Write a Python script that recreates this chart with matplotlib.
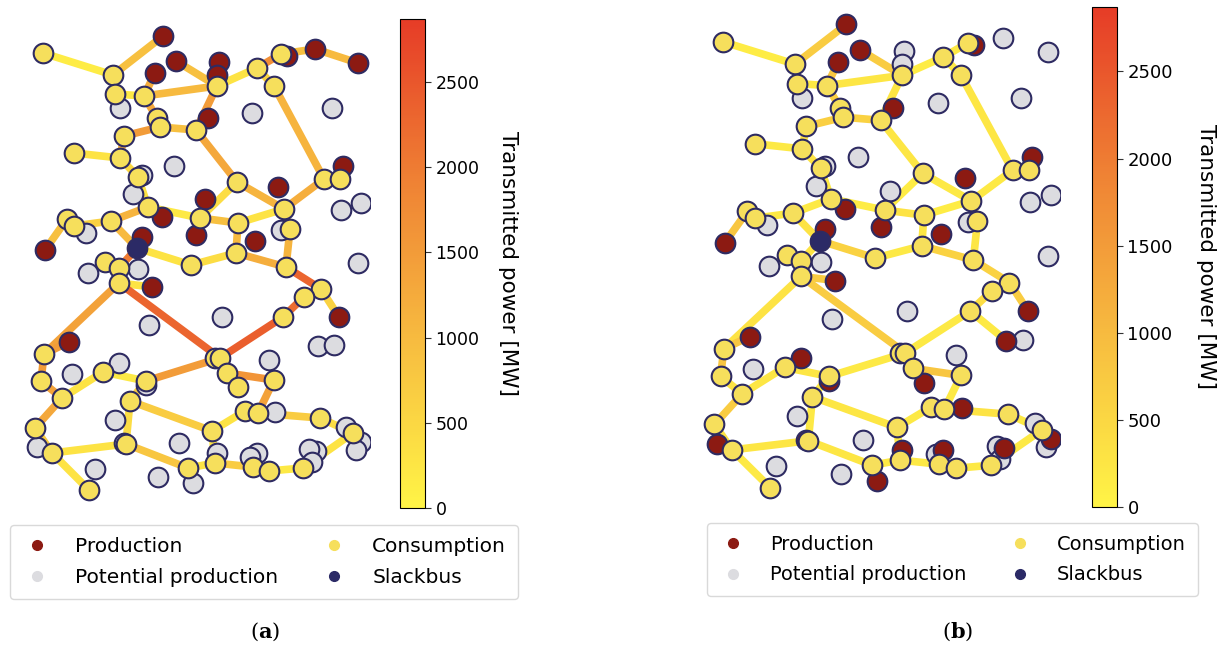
import numpy as np
import matplotlib
matplotlib.use('Agg')
import matplotlib.pyplot as plt
from matplotlib.collections import LineCollection
from matplotlib.colors import LinearSegmentedColormap, Normalize
from matplotlib.cm import ScalarMappable
from matplotlib.lines import Line2D

# node positions (same layout in both panels), type in (a) and in (b)
# C = consumption, P = production, G = potential production, S = slackbus
node_x = [43, 163, 113, 176, 219, 217, 217, 155, 115, 120, 144, 257, 281, 287, 315, 358, 274, 252, 332, 157,
          160, 208, 196, 124, 74, 120, 174, 138, 237, 278, 343, 324, 340, 133, 148, 162, 205, 200, 196, 238,
          284, 341, 361, 281, 290, 255, 67, 74, 86, 111, 45, 142, 137, 138, 105, 119, 88, 119, 152, 191,
          236, 286, 358, 321, 304, 339, 283, 222, 149, 69, 44, 318, 334, 119, 103, 72, 146, 146, 215, 220,
          227, 269, 274, 238, 41, 62, 130, 35, 37, 52, 115, 124, 126, 179, 212, 245, 258, 275, 320, 346,
          353, 361, 356, 217, 215, 257, 250, 253, 269, 316, 309, 312, 303, 188, 193, 158, 95, 89, 142]
node_y = [53, 36, 75, 61, 62, 75, 86, 73, 94, 108, 96, 68, 54, 56, 49, 63, 86, 113, 108, 118,
          127, 118, 130, 136, 153, 158, 166, 177, 182, 187, 166, 179, 179, 194, 207, 217, 199, 218, 235, 223,
          209, 210, 203, 230, 229, 241, 219, 226, 233, 221, 250, 237, 248, 269, 262, 268, 273, 283, 287, 265,
          253, 267, 263, 289, 297, 317, 317, 317, 325, 342, 354, 346, 345, 363, 372, 374, 385, 381, 358, 358,
          373, 360, 380, 387, 381, 398, 401, 428, 447, 453, 420, 443, 444, 443, 431, 411, 413, 412, 418, 427,
          433, 442, 450, 453, 463, 453, 457, 467, 471, 451, 449, 462, 468, 468, 483, 477, 469, 490, 175]
type_a = list("CPCPPPCPCGCCCPPPCGGC"
              "CPCCCCGCCPPCCGCPPCPC"
              "CGGGCPCCGCPPSGCCGCPC"
              "CCGCCPCGGPCGGGCGGCCC"
              "CGCCCCCCGCGGCGCCCGCG"
              "CGGGCGGCCGGGCCGGGCG")
type_b = list("CPCPGGCPCGCCCPGGCGGC"
              "CPCCCCGCCPPCCGCPGCPC"
              "CGGGCPCCGCPPSGCCGCPC"
              "CCGCCPCGGPCPGPCGPCCC"
              "CGCPCCCCPCGPCGCCCPCG"
              "CPGPCPGCCPGGCCPGGCG")

# edges (node index pairs) and transmitted power [MW]; nan = line not in use
edge_from = [0, 2, 2, 8, 10, 10, 3, 6, 11, 12, 14, 11, 16, 6, 10, 23, 20, 22, 23, 24,
             25, 27, 34, 49, 46, 34, 37, 37, 39, 28, 40, 40, 44, 39, 60, 61, 63, 64, 66, 66,
             52, 59, 49, 52, 54, 55, 57, 57, 57, 69, 70, 84, 85, 74, 77, 77, 85, 87, 89, 89,
             86, 86, 94, 95, 96, 80, 79, 96, 98, 100, 112, 108, 107, 104, 113, 94]
edge_to = [2, 1, 8, 10, 7, 6, 6, 11, 12, 14, 15, 16, 31, 22, 19, 20, 22, 28, 25, 25,
           27, 34, 49, 47, 50, 37, 39, 28, 40, 40, 31, 44, 61, 60, 61, 63, 65, 66, 79, 71,
           59, 60, 52, 55, 55, 57, 58, 70, 79, 70, 84, 85, 74, 77, 79, 86, 87, 89, 92, 117,
           92, 94, 95, 96, 82, 82, 80, 98, 100, 112, 108, 107, 104, 113, 92, 104]
nan = np.nan
power_a = [150, 900, 300, 200, 1200, 1000, 900, 300, 1700, 900, 1000, 600, 1100, 1500, 1300, 1500, 900, 1300, 1200, 300,
           500, 300, 1100, 600, 900, 200, 900, 400, 300, 1100, 1200, 900, 1100, 1000, 1200, 2300, 600, 2200, 2400, nan,
           300, 400, 1000, 2000, 300, 800, 300, 1400, 2300, 1500, 1500, 1400, 300, 200, 1500, 700, 1300, 700, 300, 300,
           400, 700, 300, 300, 1400, 1600, 800, 700, 400, 300, 200, 300, 700, 300, 800, 300]
power_b = [150, 700, 300, 200, 800, 250, 700, 150, 200, nan, nan, 200, 250, 250, 650, 650, 600, 250, 300, 200,
           300, 200, 200, 200, 800, 150, 300, 150, 150, 200, 200, 200, 250, 250, 600, 600, 700, 400, 200, 200,
           600, 200, 300, 300, 300, 300, 700, 300, 700, 800, 800, 300, 250, 250, 200, 200, 700, 300, 250, 200,
           200, 250, 200, 200, 200, 800, 300, 300, 200, 200, 200, 200, 200, 200, 250, 200]

ticks = [0, 500, 1000, 1500, 2000, 2500]
vmax = 2870

W, H = 1223, 646
cmap = LinearSegmentedColormap.from_list('pw', ['#fff446', '#f7bd40', '#ef8234', '#e63c27'])
norm = Normalize(0, vmax)
node_col = {'P': '#8c1a12', 'C': '#f6df5c', 'G': '#dcdce0', 'S': '#2b2a66'}
edge_col = '#2e2b62'


def rect(x0, y0, x1, y1):
    return [x0 / W, 1 - y1 / H, (x1 - x0) / W, (y1 - y0) / H]


fig = plt.figure(figsize=(W / 100, H / 100), dpi=100)

# axes box, types, powers, colorbar box, caption x, caption, legend x, legend top, legend font, label pad, tick size
panels = [
    (rect(20, 20, 370, 505), type_a, power_a, rect(400, 19, 425, 508), 265, 'a', 10, 525, 14.5, 28, 12.5),
    (rect(699, 8, 1060, 503), type_b, power_b, rect(1092, 7, 1117, 507), 958, 'b', 707, 523, 14.0, 31, 13),
]
x = np.array(node_x, float)
y = np.array(node_y, float)
for pos, types, power, cpos, capx, lab, legx, legy, legfs, lpad, tfs in panels:
    ax = fig.add_axes(pos)
    ax.set_xlim(20, 370)
    ax.set_ylim(505, 20)
    ax.axis('off')
    p = np.array(power, float)
    segs, vals = [], []
    for i, j, v in zip(edge_from, edge_to, p):
        if np.isnan(v):
            continue
        segs.append([(x[i], y[i]), (x[j], y[j])])
        vals.append(v)
    lc = LineCollection(segs, cmap=cmap, norm=norm, linewidths=5.5, zorder=1)
    lc.set_array(np.array(vals))
    ax.add_collection(lc)
    t = np.array(types)
    for k, z in [('G', 2), ('P', 3), ('C', 4), ('S', 5)]:
        m = t == k
        ax.scatter(x[m], y[m], s=200, c=node_col[k], edgecolors=edge_col, linewidths=1.5, zorder=z)

    cax = fig.add_axes(cpos)
    cb = fig.colorbar(ScalarMappable(norm=norm, cmap=cmap), cax=cax, ticks=ticks)
    cb.ax.tick_params(labelsize=tfs, length=4, color='#333333')
    cb.outline.set_linewidth(0.8)
    cb.set_label('Transmitted power [MW]', rotation=270, fontsize=15.5, labelpad=lpad)

    handles = [Line2D([], [], ls='', marker='o', ms=7, color=node_col[k]) for k in ['P', 'G', 'C', 'S']]
    labels = ['Production', 'Potential production', 'Consumption', 'Slackbus']
    fig.legend(handles, labels, ncol=2, loc='upper left', bbox_to_anchor=(legx / W, 1 - legy / H),
               borderaxespad=0, borderpad=0.6, fontsize=legfs, handlelength=1.5, handletextpad=1.15,
               columnspacing=2.0, labelspacing=0.6, frameon=True, edgecolor='#d0d0d0')
    fig.text(capx / W, 1 - 632 / H, r'($\mathbf{' + lab + r'}$)', ha='center', va='center',
             fontsize=15, family='DejaVu Serif', math_fontfamily='dejavuserif')

fig.savefig('out.png', dpi=100)
